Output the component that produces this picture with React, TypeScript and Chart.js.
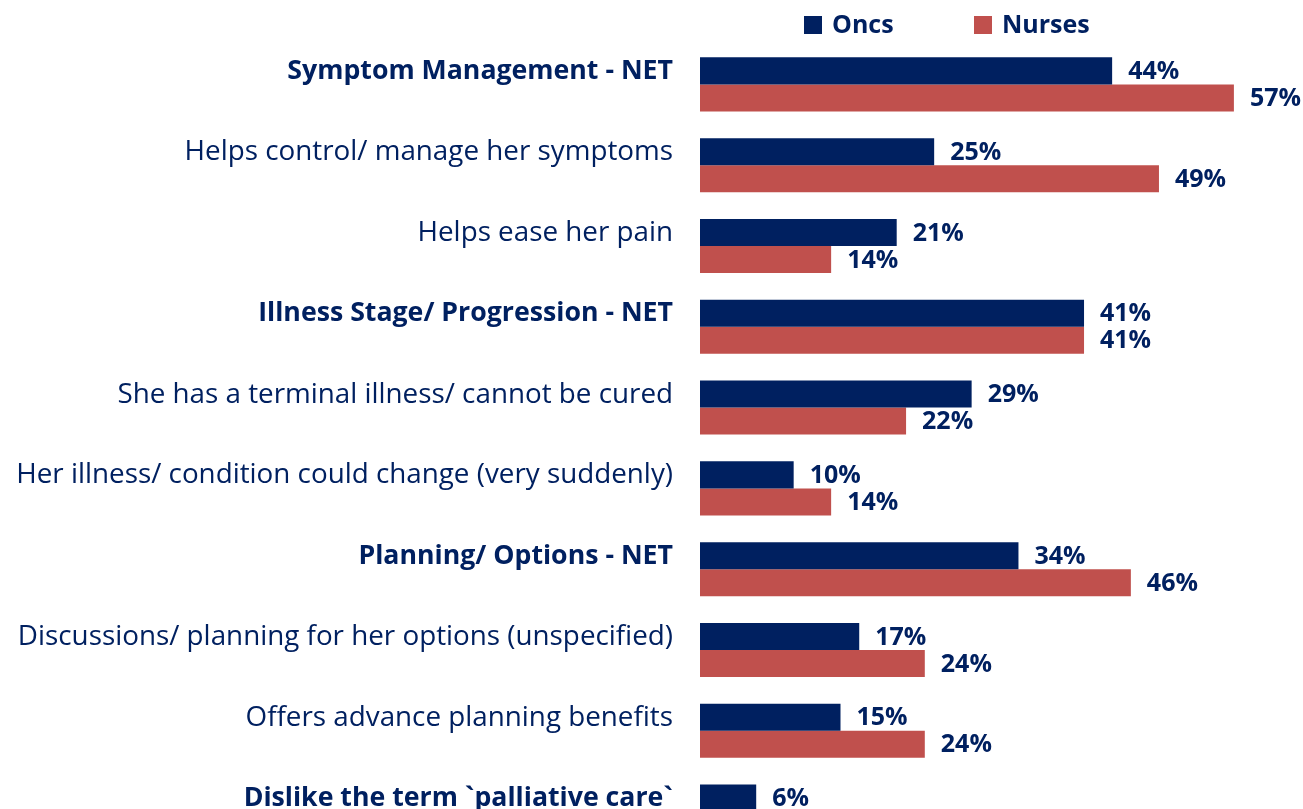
import React, { useEffect, useRef } from "react";
import { Chart, registerables } from "chart.js";

Chart.register(...registerables);

const categories = [
  "Symptom Management - NET",
  "Helps control/ manage her symptoms",
  "Helps ease her pain",
  "Illness Stage/ Progression - NET",
  "She has a terminal illness/ cannot be cured",
  "Her illness/ condition could change (very suddenly)",
  "Planning/ Options - NET",
  "Discussions/ planning for her options (unspecified)",
  "Offers advance planning benefits",
  "Dislike the term `palliative care`",
];
const boldCategories = [0, 3, 6, 9];
const oncsValues = [44, 25, 21, 41, 29, 10, 34, 17, 15, 6];
// last Nurses value is cropped off in the reference
const nursesValues: (number | null)[] = [57, 49, 14, 41, 22, 14, 46, 24, 24, null];
const seriesNames = ["Oncs", "Nurses"];

const NAVY = "#002060";
const RED = "#C0504D";
const FONT = "'Open Sans', sans-serif";

const valueLabelPlugin = {
  id: "valueLabels",
  afterDatasetsDraw(chart: any) {
    const ctx = chart.ctx;
    ctx.save();
    ctx.font = `bold 25px ${FONT}`;
    ctx.fillStyle = NAVY;
    ctx.textAlign = "left";
    ctx.textBaseline = "middle";
    chart.data.datasets.forEach((ds: any, i: number) => {
      const meta = chart.getDatasetMeta(i);
      meta.data.forEach((bar: any, j: number) => {
        const v = ds.data[j];
        if (v == null) return;
        ctx.fillText(v + "%", bar.x + 16, bar.y + 1);
      });
    });
    ctx.restore();
  },
};

const legendPlugin = {
  id: "customLegend",
  afterDraw(chart: any) {
    const ctx = chart.ctx;
    const xs = [804, 974];
    ctx.save();
    ctx.font = `bold 25px ${FONT}`;
    ctx.textAlign = "left";
    ctx.textBaseline = "middle";
    chart.data.datasets.forEach((ds: any, i: number) => {
      ctx.fillStyle = ds.backgroundColor;
      ctx.fillRect(xs[i], 16, 18, 18);
      ctx.fillStyle = NAVY;
      ctx.fillText(ds.label, xs[i] + 28, 26);
    });
    ctx.restore();
  },
};

export default function App() {
  const ref = useRef<HTMLCanvasElement>(null);
  useEffect(() => {
    if (!ref.current) return;
    const chart = new Chart(ref.current, {
      type: "bar",
      data: {
        labels: categories,
        datasets: [
          {
            label: seriesNames[0],
            data: oncsValues,
            backgroundColor: NAVY,
            categoryPercentage: 0.669,
            barPercentage: 1.0,
          },
          {
            label: seriesNames[1],
            data: nursesValues,
            backgroundColor: RED,
            categoryPercentage: 0.669,
            barPercentage: 1.0,
          },
        ],
      },
      options: {
        indexAxis: "y",
        animation: false,
        responsive: false,
        maintainAspectRatio: false,
        layout: { padding: { top: 44, bottom: 9, left: 0, right: 41 } },
        plugins: {
          legend: { display: false },
          tooltip: { enabled: false },
        },
        scales: {
          x: {
            display: false,
            min: 0,
            max: 60,
            grid: { display: false },
          },
          y: {
            grid: { display: false, drawTicks: false },
            border: { display: false },
            afterFit: (scale: any) => {
              scale.width = 700;
            },
            ticks: {
              padding: 27,
              labelOffset: -13,
              color: NAVY,
              autoSkip: false,
              font: (c: any) => {
                const bold = boldCategories.includes(c.index);
                return {
                  family: FONT,
                  size: bold ? 26.7 : 27.8,
                  weight: bold ? "bold" : "normal",
                };
              },
            },
          },
        },
      },
      plugins: [valueLabelPlugin, legendPlugin],
    });
    return () => chart.destroy();
  }, []);

  return (
    <div
      style={{
        position: "absolute",
        left: 0,
        top: 0,
        width: 1303,
        height: 809,
        overflow: "hidden",
        background: "#fff",
      }}
    >
      <canvas ref={ref} width={1303} height={895} style={{ width: 1303, height: 895, display: "block" }} />
    </div>
  );
}
